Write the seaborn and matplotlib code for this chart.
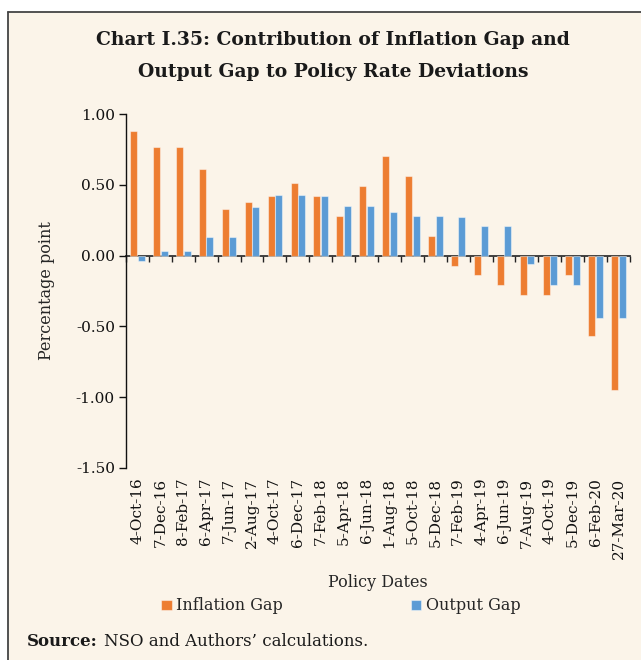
import numpy as np
import pandas as pd
import matplotlib
matplotlib.use("Agg")
import matplotlib.pyplot as plt
from matplotlib.patches import Rectangle
from matplotlib.lines import Line2D
import seaborn as sns

# Policy meeting dates and gap contributions (percentage points)
dates = ['4-Oct-16', '7-Dec-16', '8-Feb-17', '6-Apr-17', '7-Jun-17', '2-Aug-17',
         '4-Oct-17', '6-Dec-17', '7-Feb-18', '5-Apr-18', '6-Jun-18', '1-Aug-18',
         '5-Oct-18', '5-Dec-18', '7-Feb-19', '4-Apr-19', '6-Jun-19', '7-Aug-19',
         '4-Oct-19', '5-Dec-19', '6-Feb-20', '27-Mar-20']
inflation_gap = [0.88, 0.77, 0.77, 0.61, 0.33, 0.38, 0.42, 0.51, 0.42, 0.28, 0.49,
                 0.70, 0.56, 0.14, -0.07, -0.14, -0.21, -0.28, -0.28, -0.14, -0.57, -0.95]
output_gap = [-0.04, 0.03, 0.03, 0.13, 0.13, 0.34, 0.43, 0.43, 0.42, 0.35, 0.35,
              0.31, 0.28, 0.28, 0.27, 0.21, 0.21, -0.06, -0.21, -0.21, -0.44, -0.44]
series_names = ['Inflation Gap', 'Output Gap']
yticks = [1.0, 0.5, 0.0, -0.5, -1.0, -1.5]

ORANGE = '#ED7D31'
BLUE = '#5B9BD5'
CREAM = '#FBF4E9'

df = pd.DataFrame({
    'date': dates * 2,
    'value': inflation_gap + output_gap,
    'series': [series_names[0]] * len(dates) + [series_names[1]] * len(dates),
})

sns.set_theme(style='ticks')
plt.rcParams['font.family'] = ['DejaVu Serif']

fig = plt.figure(figsize=(6.41, 6.60), dpi=100, facecolor='white')

# cream panel with a thin border on top and left
fig.patches.append(Rectangle((8 / 641, 0), 1 - 8 / 641, 1 - 12 / 660,
                             transform=fig.transFigure, facecolor=CREAM,
                             edgecolor='none', zorder=-10))
fig.lines.append(Line2D([8 / 641, 1], [1 - 12 / 660] * 2, transform=fig.transFigure,
                        color='#444444', lw=1.3))
fig.lines.append(Line2D([8 / 641] * 2, [0, 1 - 12 / 660], transform=fig.transFigure,
                        color='#444444', lw=1.3))

ax = fig.add_axes([126 / 641, 1 - 468 / 660, (630 - 126) / 641, (468 - 114) / 660])
ax.set_facecolor('none')

sns.barplot(data=df, x='date', y='value', hue='series', order=dates,
            hue_order=series_names, palette=[ORANGE, BLUE], saturation=1,
            width=0.66, gap=0.08, edgecolor=(1, 1, 1, 0.45), linewidth=0.8, ax=ax)

handles, labels = ax.get_legend_handles_labels()
ax.get_legend().remove()

ax.set_ylim(-1.5, 1.0)
ax.set_xlim(-0.5, len(dates) - 0.5)
ax.set_yticks(yticks)
ax.set_yticklabels([f'{v:.2f}' for v in yticks], fontsize=11)
ax.set_xticks(range(len(dates)))
ax.set_xticklabels(dates, rotation=90, fontsize=11)
ax.tick_params(axis='x', length=0, pad=7, colors='#111111')
ax.tick_params(axis='y', direction='out', length=5, width=1.0, colors='#111111', pad=3)
ax.set_xlabel('Policy Dates', fontsize=11.5, labelpad=11)
ax.set_ylabel('Percentage point', fontsize=11.5, labelpad=15)
for side in ['top', 'right', 'bottom']:
    ax.spines[side].set_visible(False)
ax.spines['left'].set_color('#111111')
ax.spines['left'].set_linewidth(1.0)

# zero line acting as the category axis, with ticks between dates
zero_pos = (0 - (-1.5)) / (1.0 - (-1.5))
sec = ax.secondary_xaxis(zero_pos)
sec.set_alignment('bottom')
sec.set_xticks(np.arange(-0.5, len(dates), 1.0))
sec.set_xticklabels([])
sec.tick_params(axis='x', direction='out', length=4, width=1.0, colors='#222222')
sec.spines['bottom'].set_color('#333333')
sec.spines['bottom'].set_linewidth(1.3)

fig.text(333 / 641, 1 - 40 / 660, 'Chart I.35: Contribution of Inflation Gap and',
         ha='center', va='center', fontsize=13.5, fontweight='bold', color='#1a1a1a')
fig.text(333 / 641, 1 - 72 / 660, 'Output Gap to Policy Rate Deviations',
         ha='center', va='center', fontsize=13.5, fontweight='bold', color='#1a1a1a')

fig.legend(handles, labels, loc='center', bbox_to_anchor=(341 / 641, 1 - 606 / 660),
           ncol=2, frameon=False, fontsize=11.5, handlelength=0.65, handleheight=0.65,
           handletextpad=0.3, columnspacing=8.0)

# source note: bold lead-in followed by regular text
src_y = 1 - 641 / 660
lead = fig.text(27 / 641, src_y, 'Source:', ha='left', va='center',
                fontsize=12, fontweight='bold', color='#1a1a1a')
fig.canvas.draw()
bb = lead.get_window_extent(renderer=fig.canvas.get_renderer())
fig.text((bb.x1 + 6) / fig.bbox.width, src_y, 'NSO and Authors\u2019 calculations.',
         ha='left', va='center', fontsize=12, color='#1a1a1a')

fig.savefig('out.png', dpi=100, facecolor='white')
